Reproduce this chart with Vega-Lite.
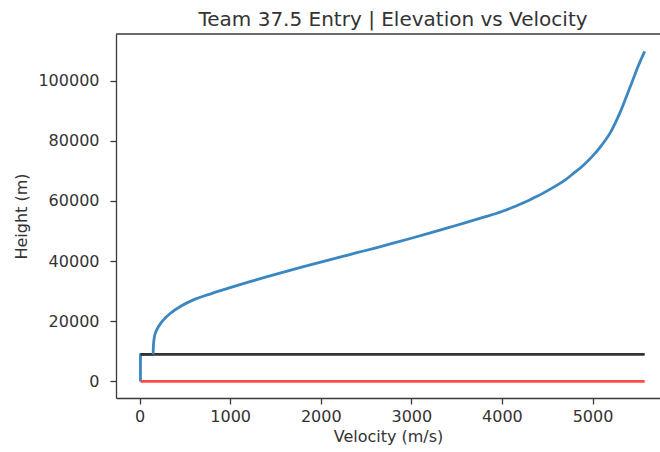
{
  "$schema": "https://vega.github.io/schema/vega-lite/v6.json",
  "autosize": "none",
  "width": 544,
  "height": 364,
  "padding": {"left": 116, "top": 34, "right": 0, "bottom": 54},
  "background": "white",
  "config": {
    "font": "DejaVu Sans",
    "view": {"stroke": null},
    "axis": {"grid": false, "domainColor": "#3a3a3a", "tickColor": "#3a3a3a", "labelColor": "#333", "titleColor": "#333", "labelFontSize": 16, "titleFontSize": 16, "titleFontWeight": "normal", "tickSize": 6, "labelPadding": 8, "domainWidth": 1.3, "tickWidth": 1.3}
  },
  "title": {"text": "Team 37.5 Entry | Elevation vs Velocity", "fontSize": 20, "fontWeight": "normal", "color": "#333", "anchor": "middle", "offset": 3, "dx": 5},
  "data": {"values": [
    {"s": "hook", "i": 0, "v": 10, "h": 0},
    {"s": "hook", "i": 1, "v": 10, "h": 9000},
    {"s": "hook", "i": 2, "v": 150, "h": 9000},
    {"s": "blue", "i": 2, "v": 150, "h": 9000},
    {"s": "blue", "i": 3, "v": 151, "h": 10300},
    {"s": "blue", "i": 4, "v": 153, "h": 11800},
    {"s": "blue", "i": 5, "v": 157, "h": 13300},
    {"s": "blue", "i": 6, "v": 165, "h": 15000},
    {"s": "blue", "i": 7, "v": 180, "h": 16500},
    {"s": "blue", "i": 8, "v": 205, "h": 18000},
    {"s": "blue", "i": 9, "v": 235, "h": 19400},
    {"s": "blue", "i": 10, "v": 264, "h": 20500},
    {"s": "blue", "i": 11, "v": 350, "h": 22900},
    {"s": "blue", "i": 12, "v": 449, "h": 24900},
    {"s": "blue", "i": 13, "v": 600, "h": 27200},
    {"s": "blue", "i": 14, "v": 800, "h": 29300},
    {"s": "blue", "i": 15, "v": 1000, "h": 31200},
    {"s": "blue", "i": 16, "v": 1200, "h": 33000},
    {"s": "blue", "i": 17, "v": 1400, "h": 34750},
    {"s": "blue", "i": 18, "v": 1600, "h": 36450},
    {"s": "blue", "i": 19, "v": 1800, "h": 38100},
    {"s": "blue", "i": 20, "v": 2000, "h": 39700},
    {"s": "blue", "i": 21, "v": 2200, "h": 41250},
    {"s": "blue", "i": 22, "v": 2400, "h": 42800},
    {"s": "blue", "i": 23, "v": 2600, "h": 44350},
    {"s": "blue", "i": 24, "v": 2800, "h": 45950},
    {"s": "blue", "i": 25, "v": 3000, "h": 47600},
    {"s": "blue", "i": 26, "v": 3200, "h": 49300},
    {"s": "blue", "i": 27, "v": 3400, "h": 51050},
    {"s": "blue", "i": 28, "v": 3600, "h": 52800},
    {"s": "blue", "i": 29, "v": 3800, "h": 54600},
    {"s": "blue", "i": 30, "v": 4000, "h": 56500},
    {"s": "blue", "i": 31, "v": 4100, "h": 57650},
    {"s": "blue", "i": 32, "v": 4200, "h": 58900},
    {"s": "blue", "i": 33, "v": 4300, "h": 60250},
    {"s": "blue", "i": 34, "v": 4400, "h": 61700},
    {"s": "blue", "i": 35, "v": 4500, "h": 63350},
    {"s": "blue", "i": 36, "v": 4600, "h": 65100},
    {"s": "blue", "i": 37, "v": 4700, "h": 67000},
    {"s": "blue", "i": 38, "v": 4800, "h": 69400},
    {"s": "blue", "i": 39, "v": 4900, "h": 71900},
    {"s": "blue", "i": 40, "v": 5000, "h": 74900},
    {"s": "blue", "i": 41, "v": 5100, "h": 78500},
    {"s": "blue", "i": 42, "v": 5200, "h": 82900},
    {"s": "blue", "i": 43, "v": 5300, "h": 89100},
    {"s": "blue", "i": 44, "v": 5400, "h": 96700},
    {"s": "blue", "i": 45, "v": 5450, "h": 100600},
    {"s": "blue", "i": 46, "v": 5500, "h": 104500},
    {"s": "blue", "i": 47, "v": 5576, "h": 109700},
    {"s": "black", "i": 0, "v": 10, "h": 9000},
    {"s": "black", "i": 1, "v": 5576, "h": 9000},
    {"s": "red", "i": 0, "v": 10, "h": 0},
    {"s": "red", "i": 1, "v": 5576, "h": 0}
  ]},
  "layer": [
    {
      "transform": [{"filter": "datum.s != 'blue'"}],
      "mark": {"type": "line", "strokeWidth": 2.8, "clip": true, "strokeJoin": "round"},
      "encoding": {
        "x": {"field": "v", "type": "quantitative", "scale": {"domain": [-260, 5745], "nice": false, "zero": false},
              "axis": {"title": "Velocity (m/s)", "values": [0, 1000, 2000, 3000, 4000, 5000], "titlePadding": 4, "labelPadding": 4, "format": "d"}},
        "y": {"field": "h", "type": "quantitative", "scale": {"domain": [-5500, 115500], "nice": false, "zero": false},
              "axis": {"title": "Height (m)", "values": [0, 20000, 40000, 60000, 80000, 100000], "titlePadding": 8, "labelPadding": 11, "format": "d"}},
        "color": {"field": "s", "type": "nominal", "scale": {"domain": ["blue", "hook", "black", "red"], "range": ["#3b87c2", "#3b87c2", "#333333", "#ff4a4a"]}, "legend": null},
        "order": {"field": "i", "type": "quantitative"}
      }
    },
    {
      "transform": [{"filter": "datum.s == 'blue'"}],
      "mark": {"type": "line", "strokeWidth": 2.8, "clip": true, "interpolate": "monotone", "strokeJoin": "round"},
      "encoding": {
        "x": {"field": "v", "type": "quantitative"},
        "y": {"field": "h", "type": "quantitative"},
        "color": {"field": "s", "type": "nominal", "legend": null},
        "order": {"field": "i", "type": "quantitative"}
      }
    },
    {
      "mark": {"type": "rule", "color": "#3a3a3a", "strokeWidth": 1.3},
      "data": {"values": [{"a": 1}]},
      "encoding": {
        "x": {"datum": -260, "type": "quantitative"},
        "x2": {"datum": 5745},
        "y": {"datum": 115500, "type": "quantitative"}
      }
    }
  ]
}
